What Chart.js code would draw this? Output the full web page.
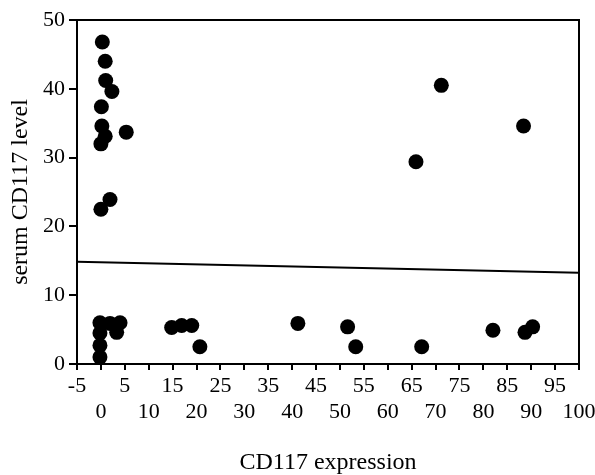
<!DOCTYPE html>
<html>
<head>
<meta charset="utf-8">
<script src="https://cdn.jsdelivr.net/npm/chart.js@4"></script>
<style>
  html, body { margin: 0; padding: 0; background: #fff; }
  #wrap { width: 595px; height: 475px; }
</style>
</head>
<body>
<div id="wrap"><canvas id="chart" width="595" height="475"></canvas></div>
<script>
// --- Data ---
const expression = [0.3, 0.9, 1.0, 2.3, 0.1, 0.2, 5.3, 0.9, 0.0, 1.9, 0.0,
    -0.2, -0.2, -0.2, -0.2, 1.9, 4.0, 3.3, 14.8, 16.9, 19.0, 20.7, 41.2,
    51.6, 53.3, 67.1, 82.0, 88.7, 90.3, 71.2, 88.4, 65.9];
const serumLevel = [46.8, 44.0, 41.2, 39.6, 37.4, 34.6, 33.7, 33.1, 32.0, 23.9, 22.5,
    6.0, 4.5, 2.7, 1.0, 5.9, 6.0, 4.6, 5.3, 5.6, 5.6, 2.5, 5.9,
    5.4, 2.5, 2.5, 4.9, 4.6, 5.4, 40.5, 34.6, 29.4];
const fitX = [-5, 100];
const fitY = [14.85, 13.25];
const xTicks = [-5, 0, 5, 10, 15, 20, 25, 30, 35, 40, 45, 50, 55, 60, 65, 70, 75, 80, 85, 90, 95, 100];
const yTicks = [0, 10, 20, 30, 40, 50];

const serif = "'Liberation Serif', 'DejaVu Serif', serif";

// draws the top and right sides of the frame
const frameBox = {
    id: 'frameBox',
    afterDraw(chart) {
        const a = chart.chartArea;
        const c = chart.ctx;
        c.save();
        c.strokeStyle = '#000';
        c.lineWidth = 2;
        c.strokeRect(a.left, a.top, a.right - a.left, a.bottom - a.top);
        c.restore();
    }
};

const ctx = document.getElementById('chart').getContext('2d');
new Chart(ctx, {
    type: 'scatter',
    data: {
        datasets: [
            {
                label: 'samples',
                data: expression.map((x, i) => ({ x: x, y: serumLevel[i] })),
                backgroundColor: '#000',
                borderColor: '#000',
                borderWidth: 0,
                pointRadius: 7.5,
                pointHoverRadius: 7.5,
                clip: false
            },
            {
                label: 'fit',
                type: 'line',
                data: fitX.map((x, i) => ({ x: x, y: fitY[i] })),
                borderColor: '#000',
                borderWidth: 2,
                pointRadius: 0,
                fill: false
            }
        ]
    },
    options: {
        responsive: false,
        animation: false,
        layout: { padding: { top: 20, right: 16, bottom: 0, left: 0 } },
        plugins: {
            legend: { display: false },
            tooltip: { enabled: false }
        },
        scales: {
            x: {
                type: 'linear',
                min: -5,
                max: 100,
                afterBuildTicks: (axis) => { axis.ticks = xTicks.map(v => ({ value: v })); },
                afterFit: (axis) => {
                    axis.height = 111;
                    // keep the plot frame where the reference has it
                    axis.paddingLeft = 0;
                    axis.paddingRight = 0;
                },
                border: { display: true, color: '#000', width: 2 },
                grid: { display: true, drawOnChartArea: false, drawTicks: true, tickLength: 6, color: '#000', lineWidth: 2 },
                ticks: {
                    autoSkip: false,
                    maxRotation: 0,
                    minRotation: 0,
                    padding: 3,
                    color: '#000',
                    font: { family: serif, size: 22, lineHeight: 1.2 },
                    callback: (v) => (Math.abs(v / 5) % 2 === 1 ? [String(v), ''] : ['', String(v)])
                },
                title: {
                    display: true,
                    text: 'CD117 expression',
                    color: '#000',
                    font: { family: serif, size: 24, lineHeight: 1 },
                    padding: { top: 0, bottom: 0 }
                }
            },
            y: {
                min: 0,
                max: 50,
                afterBuildTicks: (axis) => { axis.ticks = yTicks.map(v => ({ value: v })); },
                afterFit: (axis) => { axis.width = 77; },
                border: { display: true, color: '#000', width: 2 },
                grid: { display: true, drawOnChartArea: false, drawTicks: true, tickLength: 8, color: '#000', lineWidth: 2 },
                ticks: {
                    padding: 4,
                    color: '#000',
                    font: { family: serif, size: 22 }
                },
                title: {
                    display: true,
                    text: 'serum CD117 level',
                    color: '#000',
                    font: { family: serif, size: 24, lineHeight: 1 },
                    padding: { top: 9, bottom: 0 }
                }
            }
        }
    },
    plugins: [frameBox]
});
</script>
</body>
</html>
